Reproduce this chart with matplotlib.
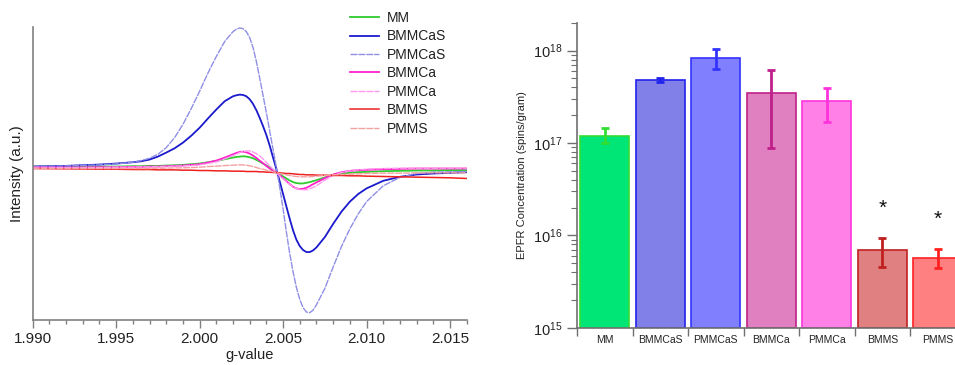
import matplotlib
matplotlib.use("Agg")
from matplotlib import pyplot as plt
from matplotlib.ticker import MultipleLocator, FormatStrFormatter, LogLocator, NullFormatter, FixedLocator
import numpy as np

plt.rcParams['font.family'] = ['Liberation Sans', 'DejaVu Sans']

# EPR spectra (intensity in arbitrary units)
g_value = [1.990, 1.992, 1.994, 1.995, 1.996, 1.9965, 1.997, 1.9975, 1.998, 1.9985,
           1.999, 1.9995, 2.000, 2.0005, 2.001, 2.0015, 2.002, 2.0022, 2.0024, 2.0026,
           2.0028, 2.003, 2.0032, 2.0034, 2.0036, 2.0038, 2.004, 2.0042, 2.0044, 2.0046,
           2.0048, 2.005, 2.0052, 2.0054, 2.0056, 2.0058, 2.006, 2.0062, 2.0064, 2.0066,
           2.0068, 2.007, 2.0075, 2.008, 2.0085, 2.009, 2.0095, 2.010, 2.011, 2.012,
           2.013, 2.014, 2.015, 2.016]
int_mm = [3, 3, 3, 3, 4, 4, 5, 5, 6, 7,
          8, 10, 12, 16, 20, 25, 30, 32, 33, 34,
          33, 31, 28, 23, 18, 12, 6, 0, -7, -14,
          -20, -27, -33, -39, -44, -47, -48, -48, -46, -44,
          -41, -38, -30, -22, -18, -16, -14, -13, -11, -10,
          -9, -9, -8, -8]
int_bmmcas = [3, 5, 9, 12, 16, 19, 24, 33, 45, 58,
              75, 96, 120, 148, 175, 200, 215, 218, 220, 219,
              215, 206, 192, 173, 150, 125, 98, 66, 30, -5,
              -42, -80, -118, -155, -190, -218, -237, -249, -255, -255,
              -250, -241, -210, -170, -133, -103, -80, -63, -40, -28,
              -21, -18, -16, -14]
int_pmmcas = [3, 5, 8, 11, 16, 21, 28, 40, 60, 90,
              130, 178, 230, 285, 335, 380, 410, 417, 421, 419,
              410, 392, 362, 320, 270, 218, 165, 110, 55, 0,
              -60, -125, -195, -260, -315, -362, -398, -423, -436, -438,
              -430, -414, -365, -300, -238, -185, -140, -103, -55, -30,
              -18, -14, -13, -12]
int_bmmca = [0, 0, 1, 1, 2, 2, 3, 3, 4, 5,
             6, 8, 10, 15, 21, 30, 40, 44, 47, 48,
             46, 42, 36, 29, 21, 13, 5, -3, -10, -15,
             -23, -32, -41, -50, -58, -63, -65, -64, -61, -56,
             -50, -45, -32, -21, -14, -10, -8, -7, -5, -4,
             -3, -3, -3, -3]
int_pmmca = [0, 0, 0, 1, 1, 2, 2, 3, 3, 4,
             5, 6, 8, 12, 17, 26, 36, 40, 45, 48,
             50, 50, 47, 42, 35, 26, 15, 5, -5, -15,
             -25, -34, -43, -51, -58, -63, -66, -67, -67, -64,
             -60, -55, -38, -24, -15, -10, -7, -5, -3, -2,
             -2, -2, -2, -2]
int_bmms = [-3, -4, -5, -5, -6, -6, -6, -7, -7, -7,
            -8, -8, -9, -9, -10, -10, -11, -11, -11, -11,
            -12, -12, -12, -12, -13, -13, -14, -14, -15, -15,
            -16, -17, -18, -18, -19, -20, -21, -21, -22, -22,
            -22, -23, -23, -24, -24, -25, -25, -26, -27, -28,
            -29, -30, -31, -33]
int_pmms = [-3, -3, -3, -3, -3, -3, -3, -2, -2, -1,
            -1, 0, 1, 3, 4, 6, 7, 8, 8, 8,
            7, 5, 3, 0, -3, -5, -8, -10, -13, -15,
            -18, -20, -22, -24, -26, -27, -28, -28, -28, -28,
            -27, -26, -24, -22, -21, -20, -19, -18, -17, -17,
            -16, -16, -16, -16]

# EPFR concentrations (spins/gram) with error bar ends
samples = ['MM', 'BMMCaS', 'PMMCaS', 'BMMCa', 'PMMCa', 'BMMS', 'PMMS']
conc = [1.2e17, 4.75e17, 8.3e17, 3.45e17, 2.83e17, 6.9e15, 5.7e15]
conc_hi = [1.45e17, 5.05e17, 1.05e18, 6.2e17, 3.97e17, 9.4e15, 7.15e15]
conc_lo = [1.0e17, 4.53e17, 6.3e17, 8.8e16, 1.69e17, 4.57e15, 4.39e15]
significant = [False, False, False, False, False, True, True]

fig = plt.figure(figsize=(9.55, 3.65), dpi=100)

# --- left: spectra
ax1 = fig.add_axes([0.0342, 0.1233, 0.4545, 0.8027])
light = (0, (5, 0.7))
spectra = [
    ('MM', int_mm, '#2ecc2e', '-', 1.3),
    ('BMMCaS', int_bmmcas, '#1a1acc', '-', 1.3),
    ('PMMCaS', int_pmmcas, '#8f8fe6', light, 1.0),
    ('BMMCa', int_bmmca, '#ff22cc', '-', 1.3),
    ('PMMCa', int_pmmca, '#ff99ee', light, 1.0),
    ('BMMS', int_bmms, '#ee2020', '-', 1.1),
    ('PMMS', int_pmms, '#f4a0a0', light, 1.0),
]
for name, vals, col, ls, lw in spectra:
    ax1.plot(g_value, vals, color=col, linestyle=ls, linewidth=lw, label=name)

ax1.set_xlim(1.990, 2.016)
ax1.set_ylim(-460, 424)
ax1.xaxis.set_major_locator(MultipleLocator(0.005))
ax1.xaxis.set_minor_locator(MultipleLocator(0.001))
ax1.xaxis.set_major_formatter(FormatStrFormatter('%.3f'))
ax1.set_yticks([])
for s in ['top', 'right']:
    ax1.spines[s].set_visible(False)
for s in ['left', 'bottom']:
    ax1.spines[s].set_color('#808080')
    ax1.spines[s].set_linewidth(1.2)
ax1.tick_params(axis='x', which='major', length=6, width=1, color='#808080',
                labelsize=11, labelcolor='#222222', pad=3)
ax1.tick_params(axis='x', which='minor', length=3, width=1, color='#808080')
ax1.set_xlabel('g-value', fontsize=10.5, color='#222222', labelpad=1)
ax1.set_ylabel('Intensity (a.u.)', fontsize=11, color='#222222', labelpad=6)

leg = ax1.legend(loc='upper left', bbox_to_anchor=(350 / 955, 1 - 11 / 365),
                 bbox_transform=fig.transFigure, frameon=False, fontsize=10,
                 handlelength=2.1, handletextpad=0.55, labelspacing=0.32,
                 borderpad=0, borderaxespad=0)
for t in leg.get_texts():
    t.set_color('#222222')

# --- right: concentrations
ax2 = fig.add_axes([577 / 955, 0.102, 388.5 / 955, 0.8356])
fills = ['#00e676', '#8080e8', '#8080ff', '#e080c0', '#ff80e6', '#e08080', '#ff8080']
edges = ['#33dd33', '#2222ee', '#3333ff', '#c0208a', '#ff33dd', '#c02020', '#ff2020']
x = np.arange(len(samples))
base = 1e15
ax2.bar(x, np.array(conc) - base, bottom=base, width=0.89, color=fills,
        edgecolor=edges, linewidth=1.2)
for i in range(len(samples)):
    ax2.errorbar(x[i], conc[i], yerr=[[conc[i] - conc_lo[i]], [conc_hi[i] - conc[i]]],
                 fmt='none', ecolor=edges[i], elinewidth=2, capsize=3, capthick=2)
    if significant[i]:
        ax2.text(x[i], conc_hi[i] * 2.1, '*', ha='center', va='center', fontsize=15,
                 color='#111111')

ax2.set_yscale('log')
ax2.set_ylim(1e15, 2e18)
ax2.set_xlim(-0.5, 6.5)
ax2.yaxis.set_major_locator(LogLocator(base=10, numticks=10))
ax2.yaxis.set_minor_locator(LogLocator(base=10, subs=np.arange(2, 10), numticks=20))
ax2.yaxis.set_minor_formatter(NullFormatter())
ax2.set_xticks(x)
ax2.set_xticklabels(samples)
ax2.xaxis.set_minor_locator(FixedLocator(np.arange(-0.5, 7, 1.0)))
for s in ['top', 'right']:
    ax2.spines[s].set_visible(False)
for s in ['left', 'bottom']:
    ax2.spines[s].set_color('#707070')
    ax2.spines[s].set_linewidth(1.2)
ax2.tick_params(axis='x', which='major', length=0, labelsize=7.5, labelcolor='#222222', pad=5)
ax2.tick_params(axis='x', which='minor', length=6, width=1, color='#707070')
ax2.tick_params(axis='y', which='major', length=7, width=1, color='#707070',
                labelsize=10.5, labelcolor='#222222')
ax2.tick_params(axis='y', which='minor', length=4, width=0.8, color='#707070')
ax2.set_ylabel('EPFR Concentration (spins/gram)', fontsize=8, color='#222222', labelpad=4)

fig.savefig('out.png', dpi=100)
